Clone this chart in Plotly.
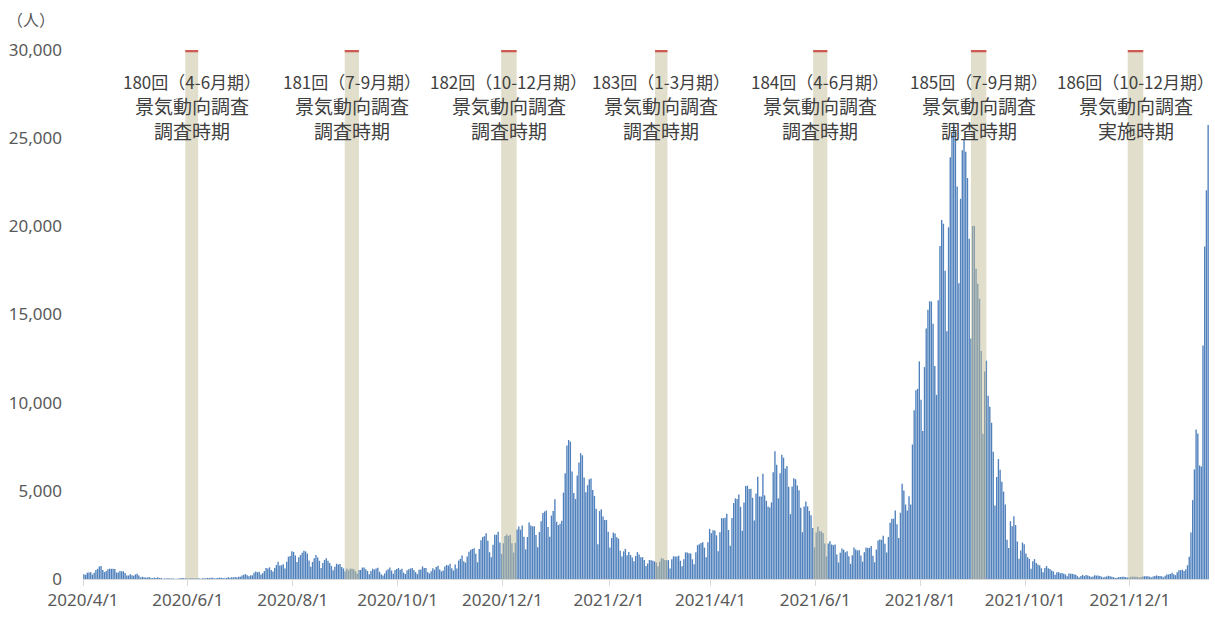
import pandas as pd
import plotly.graph_objects as go

# ---- daily new cases (人), 2020/4/1 - 2022/1/15 ----
apr20 = [266, 235, 351, 367, 383, 249, 351, 511, 576, 708, 743, 507, 391, 457, 549, 587, 576, 583, 568, 367,
         371, 450, 436, 440, 342, 201, 199, 264, 215, 190]
may20 = [265, 294, 200, 87, 123, 100, 86, 82, 113, 55, 50, 78, 55, 99, 57, 53, 21, 33, 28, 37,
         29, 32, 24, 16, 21, 22, 38, 58, 47, 36, 36]
jun20 = [35, 51, 36, 46, 41, 47, 37, 18, 40, 37, 44, 61, 55, 72, 73, 36, 40, 71, 70, 74,
         56, 43, 58, 96, 76, 105, 92, 110, 86, 128]
jul20 = [126, 195, 248, 274, 208, 161, 207, 208, 355, 428, 385, 405, 261, 332, 450, 622, 594, 662, 510, 420,
         631, 795, 981, 769, 781, 839, 598, 981, 1264, 1301, 1580]
aug20 = [1536, 1331, 958, 1236, 1357, 1485, 1605, 1565, 1442, 1050, 700, 972, 1177, 1360, 1227, 1031, 624, 905, 1075, 1180,
         1033, 914, 742, 494, 701, 865, 816, 845, 684, 600, 434]
sep20 = [589, 496, 591, 578, 546, 436, 297, 509, 509, 649, 647, 547, 456, 270, 454, 586, 542, 598, 639, 412,
         275, 204, 312, 481, 560, 646, 482, 302, 517, 570]
oct20 = [626, 528, 580, 361, 283, 493, 548, 598, 630, 516, 388, 278, 525, 537, 716, 619, 621, 388, 316, 434,
         611, 528, 676, 745, 535, 432, 485, 703, 794, 768, 866]
nov20 = [613, 485, 824, 601, 1046, 1139, 1335, 1004, 931, 1278, 1548, 1647, 1706, 1738, 1437, 949, 1698, 2201, 2383, 2427,
         2596, 2168, 1520, 1228, 1937, 2504, 2508, 2673, 2065, 1429]
dec20 = [2030, 2438, 2518, 2439, 2513, 2027, 1500, 2045, 2810, 2973, 2792, 3041, 2397, 1679, 2381, 3211, 3041, 2986, 2996, 2494,
         1799, 2668, 3271, 3740, 3830, 3881, 2948, 2395, 3596, 3852, 4520]
jan21 = [3247, 3059, 3139, 3310, 4902, 6004, 7570, 7882, 7790, 6094, 4876, 4536, 5875, 6605, 7133, 7014, 5759, 4925, 5320, 5654,
         5700, 5046, 4714, 3990, 1974, 3853, 3961, 3538, 3343, 3342, 2673]
feb21 = [1792, 2324, 2631, 2576, 2367, 2286, 1595, 1278, 1568, 1711, 1353, 1537, 1362, 1222, 1003, 1308, 1529, 1383, 1227, 1240,
         1073, 742, 879, 1079, 1067, 1037, 994, 941]
mar21 = [719, 974, 1185, 1152, 1071, 1066, 1069, 599, 1121, 1289, 1283, 1283, 1323, 1039, 730, 1119, 1510, 1500, 1463, 1445,
         1116, 837, 1516, 1918, 1964, 2047, 2083, 1781, 1228, 2086, 2843]
apr21 = [2599, 2770, 2755, 2476, 1570, 2653, 3447, 3442, 3480, 3697, 2777, 1882, 3455, 4307, 4570, 4530, 4797, 4093, 2733, 4333,
         5279, 5291, 5104, 5121, 4606, 3314, 4847, 5792, 4681, 4675]
may21 = [5962, 4742, 4434, 4107, 4051, 4346, 6054, 7244, 6479, 4575, 5992, 7050, 6877, 6263, 6412, 5238, 3676, 5240, 5718, 5660,
         5300, 5030, 4042, 2655, 4118, 4392, 4122, 3857, 3620, 2887, 1789]
jun21 = [2636, 2963, 2716, 2701, 2609, 2020, 1281, 2018, 2142, 1956, 1921, 1950, 1391, 934, 1491, 1728, 1655, 1517, 1578, 1288,
         861, 1350, 1783, 1674, 1615, 1645, 1329, 986, 1521, 1790]
jul21 = [1755, 1768, 1878, 1315, 952, 1671, 2190, 2240, 2225, 2449, 1996, 1504, 2385, 3194, 3420, 3417, 3883, 3098, 2330, 3758,
         5395, 5017, 4225, 3885, 4692, 4224, 7629, 9576, 10699, 10784, 12341]
aug21 = [10164, 8397, 12017, 14207, 15263, 15753, 15737, 14470, 12075, 10441, 15811, 18889, 20365, 20151, 17488, 14044, 19955, 23917, 25156, 25876,
         25492, 22261, 16768, 21570, 24316, 24940, 24226, 22748, 19297, 13637, 20017]
sep21 = [20030, 17600, 16748, 15900, 12931, 8235, 11764, 12382, 10386, 9771, 8862, 7214, 4175, 5779, 6802, 6197, 5515, 4955, 4229, 2222,
         1759, 3276, 2993, 3557, 3060, 2128, 1148, 1622, 2070, 1977]
oct21 = [1446, 1234, 1140, 587, 1011, 1128, 912, 816, 770, 609, 376, 627, 739, 611, 570, 485, 429, 234, 384, 386,
         330, 335, 300, 261, 154, 312, 300, 293, 276, 246, 160]
nov21 = [86, 168, 233, 162, 225, 203, 162, 107, 143, 213, 192, 205, 175, 134, 87, 123, 147, 184, 153, 134,
         103, 51, 77, 113, 115, 130, 131, 109, 80, 84]
dec21 = [134, 131, 126, 122, 113, 81, 116, 142, 157, 153, 155, 129, 83, 139, 174, 205, 171, 172, 152, 96,
         182, 252, 259, 284, 353, 263, 217, 384, 501, 502, 528]
jan22 = [456, 550, 781, 1266, 2638, 4475, 6214, 8480, 8249, 6438, 6377, 13244, 18860, 22045, 25742]

cases = (apr20 + may20 + jun20 + jul20 + aug20 + sep20 + oct20 + nov20 + dec20 +
         jan21 + feb21 + mar21 + apr21 + may21 + jun21 + jul21 + aug21 + sep21 + oct21 + nov21 + dec21 +
         jan22)
start_date = "2020-04-01"

# ---- survey periods (shaded bands) ----
band_start = ["2020-05-30 12:00", "2020-08-31 06:00", "2020-11-30 06:00", "2021-02-27 18:00",
              "2021-05-30 18:00", "2021-08-30 12:00", "2021-11-29 18:00"]
band_end = ["2020-06-07 00:00", "2020-09-08 12:00", "2020-12-09 06:00", "2021-03-07 00:00",
            "2021-06-08 00:00", "2021-09-08 12:00", "2021-12-08 18:00"]
band_titles = ["180回（4-6月期）", "181回（7-9月期）", "182回（10-12月期）", "183回（1-3月期）",
               "184回（4-6月期）", "185回（7-9月期）", "186回（10-12月期）"]
band_subtitles = ["景気動向調査<br>調査時期"] * 6 + ["景気動向調査<br>実施時期"]
y_max = 30000
unit_label = "（人）"

dates = pd.date_range(pd.Timestamp(start_date) + pd.Timedelta(hours=12), periods=len(cases), freq="D")
x_end = pd.Timestamp(start_date) + pd.Timedelta(days=len(cases))

FONT = "Noto Sans, Noto Sans CJK JP, sans-serif"
CJK = "Noto Sans CJK JP, Noto Sans, sans-serif"

fig = go.Figure()
# a colour alpha just below 1 keeps plotly from widening thin bars to whole pixels
fig.add_trace(go.Bar(x=dates, y=cases, marker=dict(color="rgba(79,129,189,0.995)", line=dict(width=0)),
                     showlegend=False, hoverinfo="x+y"))

shapes = []
annotations = []
for s, e, t1, t2 in zip(band_start, band_end, band_titles, band_subtitles):
    shapes.append(dict(type="rect", xref="x", yref="y", x0=s, x1=e, y0=0, y1=y_max,
                       fillcolor="rgba(196,189,151,0.5)", line=dict(width=0), layer="above"))
    shapes.append(dict(type="rect", xref="x", yref="y", x0=s, x1=e, y0=y_max - 130, y1=y_max,
                       fillcolor="rgba(205,75,70,0.9)", line=dict(width=0), layer="above"))
    mid = pd.Timestamp(s) + (pd.Timestamp(e) - pd.Timestamp(s)) / 2
    annotations.append(dict(x=mid, y=0.9397, xref="x", yref="paper", text=t1, showarrow=False,
                            xanchor="center", yanchor="middle", align="center",
                            font=dict(family=CJK, size=17, color="#404040")))
    annotations.append(dict(x=mid, y=0.871, xref="x", yref="paper", text=t2, showarrow=False,
                            xanchor="center", yanchor="middle", align="center",
                            font=dict(family=CJK, size=19, color="#404040")))

annotations.append(dict(x=-0.0693, y=1.058, xref="paper", yref="paper", text=unit_label, showarrow=False,
                        xanchor="left", yanchor="middle",
                        font=dict(family=CJK, size=16, color="#595959")))

fig.update_layout(
    width=1215, height=617,
    margin=dict(l=83, r=6, t=50, b=36),
    paper_bgcolor="white", plot_bgcolor="white",
    bargap=0.2,
    shapes=shapes, annotations=annotations,
    font=dict(family=FONT, color="#595959"),
    xaxis=dict(type="date", range=[start_date, x_end], tick0=start_date, dtick="M2",
               tickformat="%Y/%-m/%-d", ticks="outside", ticklen=6, tickcolor="#D9D9D9",
               showline=True, linecolor="#D9D9D9", linewidth=1, showgrid=False, zeroline=False,
               tickfont=dict(family=FONT, size=17, color="#595959")),
    yaxis=dict(range=[0, y_max], dtick=5000, tickformat=",", showgrid=False, zeroline=False,
               showline=False, ticks="", ticklabelstandoff=20,
               tickfont=dict(family=FONT, size=17, color="#595959")),
)

fig.write_html("out.html")
